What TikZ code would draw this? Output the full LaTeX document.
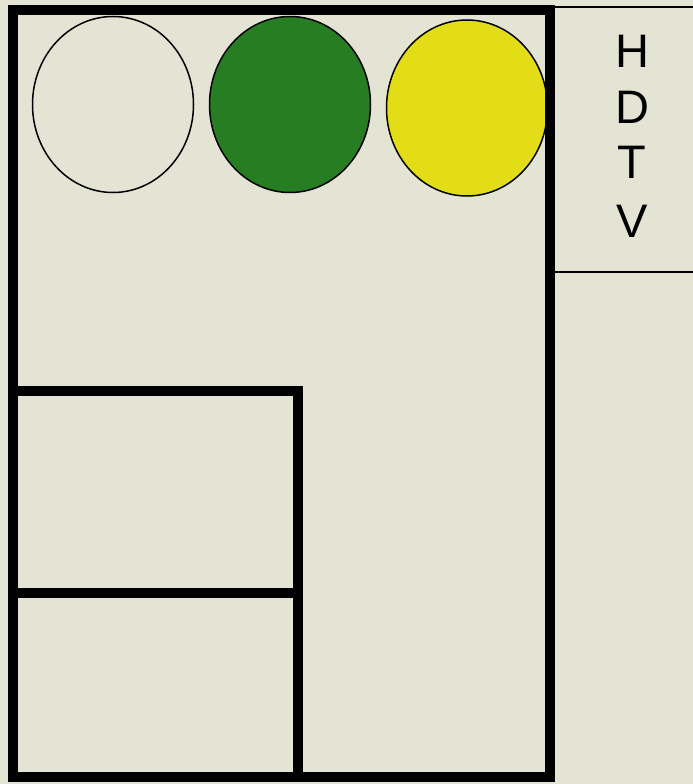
\documentclass[tikz,border=0pt]{standalone}
\usepackage{fontspec}
\setmainfont{Liberation Sans}
\usetikzlibrary{shapes.geometric}
\definecolor{paper}{RGB}{228,228,212}
\definecolor{lampgreen}{RGB}{38,125,34}
\definecolor{lampyellow}{RGB}{226,221,22}
\tikzset{
  heavy/.style={line width=10pt, line cap=rect, line join=miter},
  thin/.style={line width=1.8pt},
  lamp/.style={ellipse, draw=black, line width=1.5pt, inner sep=0pt, minimum width=161pt, minimum height=176pt},
  letter/.style={anchor=base, inner sep=0pt, font=\fontsize{47}{56}\selectfont}
}
\begin{document}
\begin{tikzpicture}[x=1pt,y=-1pt]
\fill[paper] (0,0) rectangle (693,784);
\useasboundingbox (0,0) rectangle (693,784);
% right panel lines
\draw[thin] (550,7) -- (693,7);
\draw[thin] (550,272) -- (693,272);
% lamps
\node[lamp] (white) at (113,104.5) {};
\node[lamp, fill=lampgreen] (green) at (290,104.5) {};
\node[lamp, fill=lampyellow] (yellow) at (467,108) {};
% frames
\draw[heavy] (13,10) rectangle (550,777);
\draw[heavy] (13,391) -- (298,391) -- (298,777);
\draw[heavy] (13,593) -- (298,593);
% text
\node[letter] (h) at (632,67) {H};
\node[letter] (d) at (632,123) {D};
\node[letter] (t) at (632,178) {T};
\node[letter] (v) at (632,237) {V};
\end{tikzpicture}
\end{document}
